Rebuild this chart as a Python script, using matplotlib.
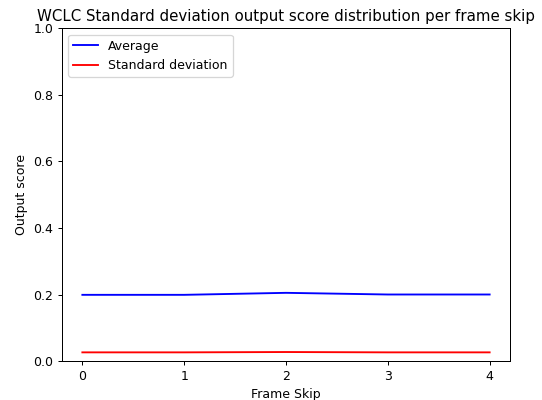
import matplotlib
matplotlib.use("Agg")
import matplotlib.pyplot as plt

frame_skip = [0, 1, 2, 3, 4]
average = [0.199, 0.199, 0.205, 0.2, 0.2]
std_dev = [0.026, 0.026, 0.027, 0.026, 0.026]

DPI = 90
fig = plt.figure(figsize=(542 / DPI, 400 / DPI), dpi=DPI)
ax = fig.add_axes([62 / 542, 39 / 400, 448 / 542, 332.5 / 400])
ax.plot(frame_skip, average, color="blue", label="Average")
ax.plot(frame_skip, std_dev, color="red", label="Standard deviation")
ax.set_ylim(0, 1)
ax.set_xticks(frame_skip)
ax.set_xlabel("Frame Skip")
ax.set_ylabel("Output score")
ax.set_title("WCLC Standard deviation output score distribution per frame skip")
ax.legend(loc="upper left")
fig.savefig("out.png", dpi=DPI)
